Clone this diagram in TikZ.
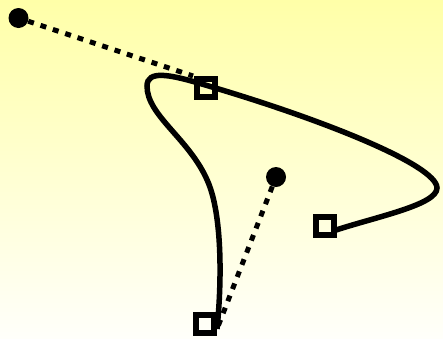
\documentclass[tikz,border=0pt]{standalone}
\definecolor{bgtop}{RGB}{255,255,168}
\definecolor{bgbot}{RGB}{255,255,250}
\begin{document}
\begin{tikzpicture}[x=1pt,y=-1pt,
  curve/.style={line width=5.5pt},
  ctrl/.style={line width=5pt, dash pattern=on 6pt off 7pt},
  handle/.style={circle, fill=black, inner sep=0pt, minimum size=20pt},
  anchorbox/.style={draw, line width=6pt, inner sep=0pt, minimum size=18pt}]
\shade[top color=bgtop, bottom color=bgbot] (0,0) rectangle (443,338);
\useasboundingbox (0,0) rectangle (443,338);
\coordinate (pt) at (193,76);
\coordinate (pb) at (217,329);
\coordinate (pe) at (333,231);
\node[handle] (c1) at (18.5,18) {};
\node[handle] (c2) at (276,177) {};
\draw[ctrl] (c1) -- (pt);
\draw[ctrl] (c2) -- (pb);
\draw[curve] (pb) .. controls (222,280) and (222,215) .. (208,182)
  .. controls (190,139) and (147,116) .. (147,86)
  .. controls (147,70) and (170,75) .. (195,82)
  .. controls (320,118) and (437,165) .. (437,188)
  .. controls (437,205) and (375,217) .. (pe);
\node[anchorbox] (s1) at (205.5,87.5) {};
\node[anchorbox] (s2) at (205,324) {};
\node[anchorbox] (s3) at (324.7,226) {};
\end{tikzpicture}
\end{document}
